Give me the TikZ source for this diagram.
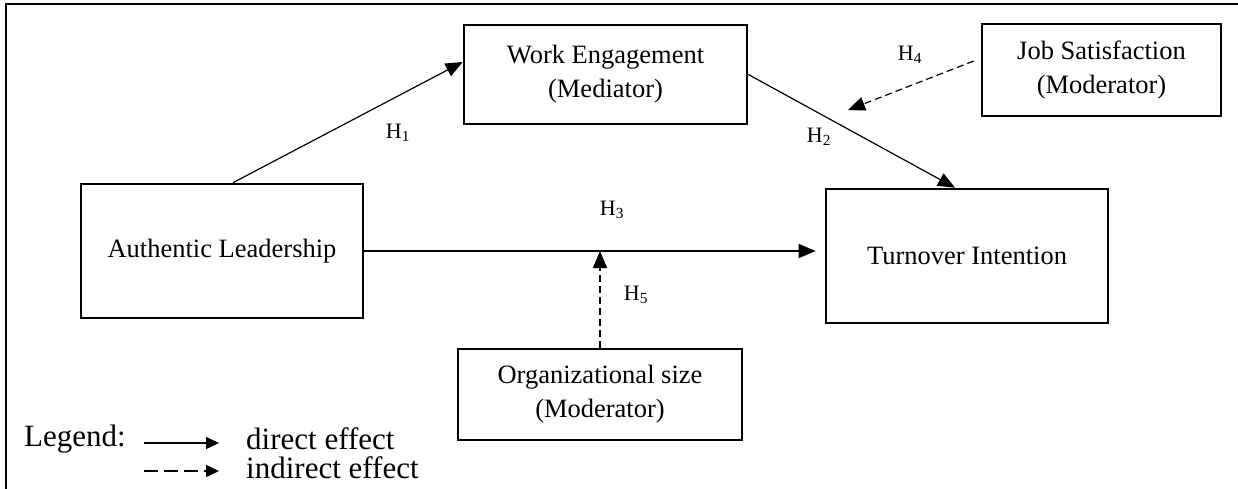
\documentclass[tikz,border=0pt]{standalone}
\usepackage{fontspec}
\setmainfont{Liberation Serif}
\usetikzlibrary{arrows.meta}
\begin{document}
\begin{tikzpicture}[x=1pt,y=-1pt,
  box/.style={draw,line width=2.6pt,inner sep=0pt,align=center,font=\fontsize{26.5}{34}\selectfont},
  conn/.style={line width=1.2pt,-{Triangle[length=17pt,width=14pt]}},
  dconn/.style={conn,dash pattern=on 7pt off 4pt},
  hlab/.style={font=\fontsize{22}{26}\selectfont,inner sep=0pt},
  legfont/.style={font=\fontsize{31}{34}\selectfont,inner sep=0pt},
  legarrow/.style={line width=1.4pt,-{Triangle[length=13pt,width=12pt]}}
]
\useasboundingbox (0,0) rectangle (1238,488);
% frame
\draw[line width=2.5pt] (6,490) -- (6,4) -- (1240,4);

% boxes
\node[box,minimum width=283pt,minimum height=99pt] (we) at (605.5,74.5) {Work Engagement\\(Mediator)};
\node[box,minimum width=239pt,minimum height=92pt] (js) at (1101.5,70) {Job Satisfaction\\(Moderator)};
\node[box,minimum width=282pt,minimum height=134pt] (al) at (222,251) {Authentic Leadership};
\node[box,minimum width=282pt,minimum height=134pt] (ti) at (967,256) {Turnover Intention};
\node[box,minimum width=284pt,minimum height=91pt] (os) at (600,394.5) {Organizational size\\(Moderator)};

% connectors
\draw[conn] ([xshift=11pt]al.north) -- ([yshift=12.5pt]we.west);
\draw[conn] (we.east) -- ([xshift=-12pt]ti.north);
\draw[conn] (al.east) -- ([xshift=-9pt]ti.west |- al.east);
\coordinate (h4end) at (848,110);
\draw[dconn] ([xshift=-7pt,yshift=9pt]js.west) -- (h4end);
\draw[dconn] (os.north) -- (os.north |- al.east);

% labels
\node[hlab] (h1) at (398,133) {H\textsubscript{1}};
\node[hlab] (h2) at (819,137) {H\textsubscript{2}};
\node[hlab] (h3) at (612,210) {H\textsubscript{3}};
\node[hlab] (h4) at (910,55) {H\textsubscript{4}};
\node[hlab] (h5) at (636,295) {H\textsubscript{5}};

% legend
\node[legfont,anchor=west] (leg) at (24,439) {Legend:};
\coordinate (ls1) at (144,443);
\coordinate (le1) at (219,443);
\draw[legarrow] (ls1) -- (le1);
\node[legfont,anchor=west] (l1) at (246,439) {direct effect};
\coordinate (ls2) at (144,471);
\coordinate (le2) at (219,471);
\draw[legarrow,dash pattern=on 14pt off 6pt] (ls2) -- (le2);
\node[legfont,anchor=west] (l2) at (246,468) {indirect effect};
\end{tikzpicture}
\end{document}
